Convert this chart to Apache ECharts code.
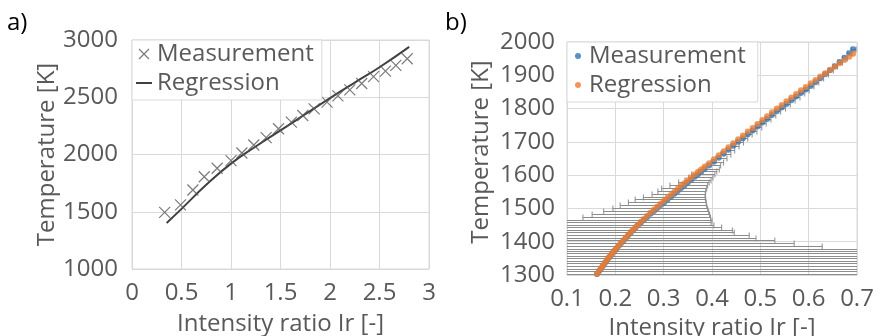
<!DOCTYPE html>
<html>
<head>
<meta charset="utf-8">
<script src="https://cdn.jsdelivr.net/npm/echarts@6/dist/echarts.min.js"></script>
<style>
  html, body { margin: 0; padding: 0; background: #fff; }
  #chart { width: 877px; height: 336px; }
</style>
</head>
<body>
<div id="chart"></div>
<script>
// panel a) - measurement crosses and regression curve
const ratioA = [0.33, 0.49, 0.615, 0.73, 0.86, 1.0, 1.11, 1.23, 1.355, 1.48, 1.61, 1.725, 1.84, 1.97, 2.08, 2.2, 2.32, 2.44, 2.56, 2.665, 2.78];
const measA = [1495, 1560, 1690, 1806, 1880, 1946, 2013, 2083, 2147, 2225, 2283, 2341, 2399, 2457, 2512, 2565, 2620, 2680, 2728, 2778, 2836];
const regRatioA = [0.35, 0.5, 0.75, 1.0, 1.25, 1.5, 1.75, 2.0, 2.25, 2.5, 2.8];
const regA = [1402, 1525, 1735, 1920, 2070, 2210, 2352, 2493, 2628, 2762, 2940];

// panel b) - measurement with horizontal error bars, regression at the same ratios
const ratioB = [
  0.162, 0.166, 0.170, 0.174, 0.178, 0.182, 0.186, 0.190, 0.194, 0.198, 0.202,
  0.207, 0.212, 0.217, 0.222, 0.227, 0.232, 0.237, 0.242, 0.247, 0.253, 0.259,
  0.266, 0.273, 0.280, 0.287, 0.294, 0.301, 0.308, 0.315, 0.322, 0.329, 0.336,
  0.343, 0.350, 0.357, 0.364, 0.371, 0.378, 0.385,
  0.394, 0.404, 0.414, 0.424, 0.434, 0.444, 0.454, 0.464, 0.474, 0.484, 0.494,
  0.504, 0.514, 0.524, 0.534, 0.544, 0.554, 0.564, 0.574, 0.584, 0.594, 0.604,
  0.614, 0.624, 0.634, 0.644, 0.654, 0.664, 0.674, 0.684, 0.692
];
const measB = [
  1303, 1311, 1319, 1327, 1335, 1343, 1351, 1358, 1365, 1372, 1379,
  1388, 1396, 1404, 1412, 1420, 1428, 1435, 1443, 1450, 1458, 1466,
  1474, 1484, 1492, 1501, 1510, 1518, 1527, 1535, 1544, 1552, 1561,
  1569, 1578, 1586, 1595, 1603, 1611, 1619,
  1629, 1640, 1652, 1664, 1676, 1688, 1700, 1711, 1723, 1734, 1746,
  1758, 1769, 1781, 1792, 1803, 1814, 1825, 1836, 1847, 1857, 1868,
  1879, 1891, 1903, 1915, 1927, 1940, 1953, 1966, 1978
];
const regB = [
  1303, 1312, 1320, 1328, 1336, 1344, 1352, 1359, 1366, 1373, 1380,
  1389, 1397, 1405, 1413, 1421, 1429, 1436, 1444, 1451, 1460, 1468,
  1478, 1488, 1497, 1506, 1515, 1524, 1533, 1541, 1550, 1559, 1568,
  1576, 1585, 1593, 1602, 1610, 1618, 1626,
  1636, 1648, 1660, 1672, 1684, 1696, 1708, 1719, 1731, 1742, 1754,
  1766, 1777, 1789, 1800, 1811, 1822, 1833, 1844, 1855, 1865, 1876,
  1886, 1896, 1906, 1916, 1926, 1936, 1946, 1956, 1965
];
const errLowB = [
  0.05, 0.05, 0.05, 0.05, 0.05, 0.05, 0.05, 0.05, 0.05, 0.05, 0.05,
  0.05, 0.05, 0.05, 0.05, 0.05, 0.05, 0.05, 0.05, 0.05, 0.05, 0.05,
  0.133, 0.152, 0.176, 0.195, 0.210, 0.227, 0.241, 0.258, 0.276, 0.288, 0.296,
  0.313, 0.331, 0.344, 0.352, 0.358, 0.372, 0.380,
  0.388, 0.398, 0.408, 0.418, 0.429, 0.439, 0.450, 0.460, 0.470, 0.480, 0.490,
  0.500, 0.510, 0.520, 0.530, 0.540, 0.550, 0.560, 0.570, 0.580, 0.590, 0.600,
  0.610, 0.620, 0.630, 0.640, 0.650, 0.660, 0.670, 0.680, 0.688
];
const errHighB = [
  0.75, 0.75, 0.75, 0.75, 0.75, 0.75, 0.75, 0.75, 0.75, 0.75, 0.75,
  0.628, 0.570, 0.530, 0.491, 0.477, 0.446, 0.442, 0.420, 0.404, 0.398, 0.400,
  0.397, 0.395, 0.393, 0.391, 0.389, 0.388, 0.387, 0.386, 0.386, 0.387, 0.389,
  0.391, 0.394, 0.398, 0.402, 0.406, 0.410, 0.415,
  0.418, 0.424, 0.431, 0.439, 0.447, 0.456, 0.465, 0.474, 0.483, 0.493, 0.503,
  0.512, 0.522, 0.532, 0.542, 0.552, 0.562, 0.572, 0.582, 0.592, 0.601, 0.611,
  0.621, 0.631, 0.641, 0.651, 0.660, 0.670, 0.680, 0.690, 0.698
];

const TEXT = '#595959';
const LINE = '#d9d9d9';
const FONT = 'Open Sans';
const BLUE = '#2E75B6';
const ORANGE = '#ED7D31';

const fmt = (v) => String(Math.round(v * 100) / 100);

const valueAxis = (extra) => Object.assign({
  type: 'value',
  axisLine: { show: false },
  axisTick: { show: false },
  splitLine: { lineStyle: { color: LINE, width: 1 } },
  nameLocation: 'middle',
  nameTextStyle: { color: TEXT, fontSize: 24, fontFamily: FONT }
}, extra);

const tickLabel = (margin) => ({ color: TEXT, fontSize: 24, fontFamily: FONT, formatter: fmt, margin: margin });

const legendBase = {
  orient: 'vertical',
  itemGap: 5,
  backgroundColor: '#fff',
  borderColor: LINE,
  borderWidth: 1,
  borderRadius: 0,
  selectedMode: false,
  textStyle: { color: TEXT, fontSize: 24, fontFamily: FONT }
};

// horizontal error bar with end caps, clipped to the plot
function renderErrorBar(params, api) {
  const t = api.value(1);
  const a = api.coord([api.value(2), t]);
  const b = api.coord([api.value(3), t]);
  const cs = params.coordSys;
  const y = Math.round(a[1]) + 0.5;
  const x1 = Math.max(a[0], cs.x);
  const x2 = Math.min(b[0], cs.x + cs.width);
  const style = { stroke: '#8c8c8c', lineWidth: 1 };
  const children = [{ type: 'line', shape: { x1: x1, y1: y, x2: x2, y2: y }, style: style }];
  if (a[0] >= cs.x) {
    children.push({ type: 'line', shape: { x1: a[0], y1: y - 3, x2: a[0], y2: y + 3 }, style: style });
  }
  if (b[0] <= cs.x + cs.width) {
    children.push({ type: 'line', shape: { x1: b[0], y1: y - 3, x2: b[0], y2: y + 3 }, style: style });
  }
  return { type: 'group', children: children };
}

const chart = echarts.init(document.getElementById('chart'));

chart.setOption({
  animation: false,
  backgroundColor: '#fff',
  graphic: [
    { type: 'text', left: 7, top: 11, style: { text: 'a)', fontSize: 24, fontFamily: FONT, fill: '#000' } },
    { type: 'text', left: 445, top: 11, style: { text: 'b)', fontSize: 24, fontFamily: FONT, fill: '#000' } }
  ],
  grid: [
    { left: 132, top: 40, width: 297, height: 229, show: true, borderColor: LINE, borderWidth: 1,
      containLabel: false, outerBoundsMode: 'none' },
    { left: 567, top: 42, width: 290, height: 233, show: true, borderColor: LINE, borderWidth: 1,
      containLabel: false, outerBoundsMode: 'none' }
  ],
  xAxis: [
    valueAxis({ gridIndex: 0, min: 0, max: 3, interval: 0.5, name: 'Intensity ratio Ir [-]', nameGap: 43,
      axisLabel: tickLabel(12) }),
    valueAxis({ gridIndex: 1, min: 0.1, max: 0.7, interval: 0.1, name: 'Intensity ratio Ir [-]', nameGap: 36,
      axisLabel: tickLabel(12) })
  ],
  yAxis: [
    valueAxis({ gridIndex: 0, min: 1000, max: 3000, interval: 500, name: 'Temperature [K]', nameGap: 73,
      axisLabel: tickLabel(14) }),
    valueAxis({ gridIndex: 1, min: 1300, max: 2000, interval: 100, name: 'Temperature [K]', nameGap: 74,
      nameTextStyle: { color: TEXT, fontSize: 24, fontFamily: FONT, padding: [0, 0, 0, 13] },
      axisLabel: tickLabel(12) })
  ],
  legend: [
    Object.assign({}, legendBase, {
      left: 132, top: 40,
      padding: [2, 8, 5, 3],
      itemWidth: 16, itemHeight: 10,
      data: [
        { name: 'Measurement', itemStyle: { borderWidth: 1.2 } },
        { name: 'Regression', itemStyle: { color: 'rgba(0,0,0,0)', borderWidth: 0, opacity: 0 } }
      ]
    }),
    Object.assign({}, legendBase, {
      left: 567, top: 42,
      padding: [2, 12, 5, 8],
      itemWidth: 12, itemHeight: 6,
      data: ['Measurement (b)', 'Regression (b)'],
      formatter: (name) => name.replace(' (b)', '')
    })
  ],
  series: [
    {
      name: 'Measurement',
      type: 'scatter',
      xAxisIndex: 0, yAxisIndex: 0,
      symbol: 'path://M0,0L10,10M10,0L0,10',
      symbolSize: 11,
      symbolKeepAspect: true,
      itemStyle: { color: 'rgba(0,0,0,0)', borderColor: '#595959', borderWidth: 1.2 },
      data: ratioA.map((x, i) => [x, measA[i]]),
      z: 3
    },
    {
      name: 'Regression',
      type: 'line',
      xAxisIndex: 0, yAxisIndex: 0,
      smooth: true,
      symbol: 'none',
      color: '#404040',
      lineStyle: { color: '#404040', width: 2 },
      data: regRatioA.map((x, i) => [x, regA[i]]),
      z: 2
    },
    {
      name: 'error',
      type: 'custom',
      xAxisIndex: 1, yAxisIndex: 1,
      silent: true,
      renderItem: renderErrorBar,
      encode: { x: 0, y: 1 },
      data: ratioB.map((x, i) => [x, measB[i], errLowB[i], errHighB[i]]),
      z: 1
    },
    {
      name: 'Measurement (b)',
      type: 'scatter',
      xAxisIndex: 1, yAxisIndex: 1,
      symbolSize: 6,
      itemStyle: { color: BLUE },
      data: ratioB.map((x, i) => [x, measB[i]]),
      z: 2
    },
    {
      name: 'Regression (b)',
      type: 'scatter',
      xAxisIndex: 1, yAxisIndex: 1,
      symbolSize: 6,
      itemStyle: { color: ORANGE },
      data: ratioB.map((x, i) => [x, regB[i]]),
      z: 3
    }
  ]
});
</script>
</body>
</html>
